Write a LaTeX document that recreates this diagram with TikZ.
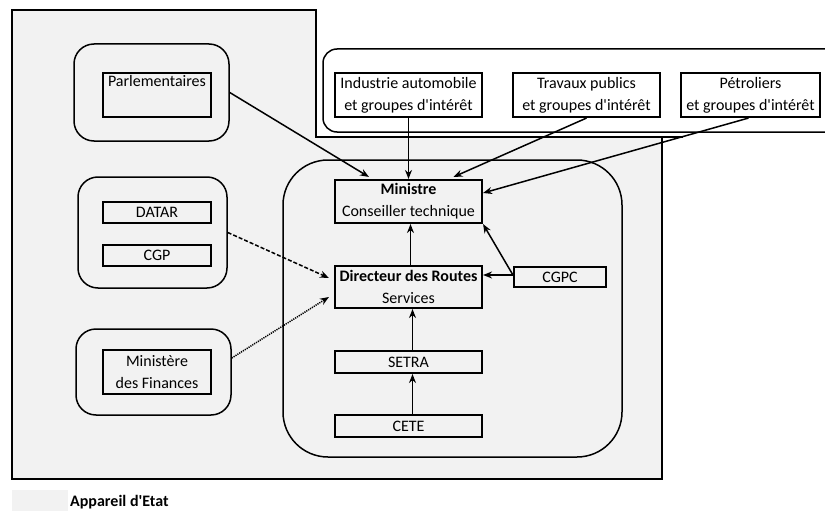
\documentclass[tikz,border=0pt]{standalone}
\usepackage{fontspec}
\setmainfont{Carlito}[Ligatures=TeXOff]
\usetikzlibrary{arrows.meta,calc}
\definecolor{etat}{HTML}{F2F2F2}
\begin{document}
\begin{tikzpicture}[x=1pt,y=-1pt,
  box/.style={draw, line width=2.1pt, inner sep=0pt, align=center,
    font=\fontsize{16}{22}\selectfont},
  grp/.style={draw, line width=1.5pt, rounded corners=20pt, inner sep=0pt},
  arr/.style={line width=1.5pt, -{Stealth[length=9pt,width=7pt]}}]
\useasboundingbox (0,0) rectangle (825,511);
\clip (0,0) rectangle (825,511);
% Appareil d'Etat area
\path[fill=etat, draw=black, line width=2pt]
  (12,10) -- (316,10) -- (316,137) -- (662,137) -- (662,479) -- (12,479) -- cycle;
\draw[line width=2pt] (662,137) -- (683,137);
% interest groups frame
\draw[line width=1.5pt, fill=white, rounded corners=14pt] (323,49) rectangle (845,132);
% group frames
\node[grp, minimum width=155pt, minimum height=97pt] (parlG) at (151.5,92.5) {};
\node[grp, minimum width=149pt, minimum height=111pt] (datG) at (152.5,232.5) {};
\node[grp, minimum width=155pt, minimum height=86pt] (finG) at (153.5,372) {};
\node[draw, line width=1.5pt, rounded corners=45pt, minimum width=339pt, minimum height=297pt, inner sep=0pt] (mainG) at (452.5,308.5) {};
% boxes
\node[box, minimum width=108pt, minimum height=44pt] (parl) at (157,95) {Parlementaires\\\strut};
\node[box, minimum width=108pt, minimum height=21pt] (datar) at (157,212.5) {DATAR};
\node[box, minimum width=108pt, minimum height=21pt] (cgp) at (157,255.5) {CGP};
\node[box, minimum width=108pt, minimum height=44pt] (fin) at (157,372) {Ministère\\des Finances};
\node[box, minimum width=147pt, minimum height=44pt] (ind) at (408.5,95) {Industrie automobile\\et groupes d'intérêt};
\node[box, minimum width=147pt, minimum height=44pt] (tp) at (586.5,95) {Travaux publics\\et groupes d'intérêt};
\node[box, minimum width=139pt, minimum height=44pt] (pet) at (750.5,95) {Pétroliers\\et groupes d'intérêt};
\node[box, minimum width=147pt, minimum height=43pt] (min) at (408.5,201.5) {{\bfseries Ministre}\\Conseiller technique};
\node[box, minimum width=147pt, minimum height=42pt] (dir) at (408.5,287) {{\bfseries Directeur des Routes}\\Services};
\node[box, minimum width=92pt, minimum height=20pt] (cgpc) at (560,277) {CGPC};
\node[box, minimum width=147pt, minimum height=22pt] (setra) at (408.5,362) {SETRA};
\node[box, minimum width=147pt, minimum height=22pt] (cete) at (408.5,426) {CETE};
% connectors
\draw[arr] (parlG.east) -- ($(min.north west)+(35,-2)$);
\draw[arr] (ind.south) -- (ind.south |- min.north);
\draw[arr] (tp.south) -- ($(min.north)+(45,-2)$);
\draw[arr] ($(pet.south)+(-2,0)$) -- ($(min.east)+(0,-8.5)$);
\draw[arr] ($(dir.north)+(2,0)$) -- ($(min.south)+(2,0)$);
\coordinate (cg) at ($(cgpc.west)+(0,-2)$);
\draw[arr] (cg) -- (cg -| dir.east);
\draw[arr] (cg) -- (min.south east);
\draw[arr] ($(setra.north)+(4,0)$) -- ($(dir.south)+(4,0)$);
\draw[arr] ($(cete.north)+(4,0)$) -- ($(setra.south)+(4,0)$);
\draw[arr, dash pattern=on 4pt off 2pt] (datG.east) -- ($(dir.west)+(-5,-9)$);
\draw[arr, dash pattern=on 1.2pt off 1pt] ($(finG.east)+(0,-14)$) -- ($(dir.west)+(-5,10)$);
% legend
\fill[etat] (12,490) rectangle (68,515);
\node[anchor=west, font=\fontsize{16}{18}\selectfont\bfseries, inner sep=0pt] (leg) at (70,502) {Appareil d'Etat};
\end{tikzpicture}
\end{document}
